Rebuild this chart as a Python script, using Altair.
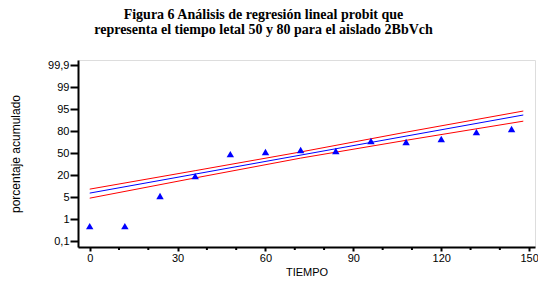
import json
import altair as alt
import pandas as pd

# ---- data ----
title_lines = ["Figura 6 Análisis de regresión lineal probit que",
               "representa el tiempo letal 50 y 80 para el aislado 2BbVch"]
y_tick_labels = ["0,1", "1", "5", "20", "50", "80", "95", "99", "99,9"]  # equally spaced probit ticks
x_ticks = [0, 30, 60, 90, 120, 150]
x_minor = [10, 20, 40, 50, 70, 80, 100, 110, 130, 140]

tiempo = [0, 12, 24, 36, 48, 60, 72, 84, 96, 108, 120, 132, 144]
probit_obs = [0.68, 0.68, 2.05, 2.95, 3.95, 4.05, 4.14, 4.09, 4.55, 4.50, 4.64, 4.95, 5.09]

fit_x = [0, 148]
fit_y = [2.18, 5.73]
ci_x = [0, 36, 72, 108, 148]
ci_upper = [2.36, 3.20, 4.05, 4.95, 5.91]
ci_lower = [1.95, 2.87, 3.77, 4.58, 5.45]

W, H = 457, 187

pts = pd.DataFrame({"x": tiempo, "y": probit_obs})
fit = pd.DataFrame({"x": fit_x, "y": fit_y})
up = pd.DataFrame({"x": ci_x, "y": ci_upper})
lo = pd.DataFrame({"x": ci_x, "y": ci_lower})
minor = pd.DataFrame({"x": x_minor})

xscale = alt.Scale(domain=[-4, 152], nice=False, zero=False)
yscale = alt.Scale(domain=[-0.27, 8.23], nice=False, zero=False)

label_expr = json.dumps(y_tick_labels) + "[datum.value]"

xaxis = alt.Axis(values=x_ticks, title="TIEMPO", grid=False, domainColor="black",
                 domainWidth=2, tickColor="black", tickWidth=2, tickSize=4,
                 labelFont="Liberation Sans", labelFontSize=11, labelColor="black",
                 labelPadding=1, titleFont="Liberation Sans", titleFontSize=11,
                 titleFontWeight="normal", titleColor="black", titlePadding=3)
yaxis = alt.Axis(values=list(range(len(y_tick_labels))), labelExpr=label_expr,
                 title="porcentaje acumulado", grid=False, domainColor="black",
                 domainWidth=2, tickColor="black", tickWidth=2, tickSize=8,
                 labelFont="Liberation Sans", labelFontSize=11, labelColor="black",
                 labelPadding=1, titleFont="Liberation Sans", titleFontSize=12,
                 titleFontWeight="normal", titleColor="black", titlePadding=25)

base_x = alt.X("x:Q", scale=xscale, axis=xaxis)
base_y = alt.Y("y:Q", scale=yscale, axis=yaxis)

lines_red_u = alt.Chart(up).mark_line(color="#FF0000", strokeWidth=1).encode(x=base_x, y=base_y)
lines_red_l = alt.Chart(lo).mark_line(color="#FF0000", strokeWidth=1).encode(x=base_x, y=base_y)
line_blue = alt.Chart(fit).mark_line(color="#0000FF", strokeWidth=1).encode(x=base_x, y=base_y)
points = alt.Chart(pts).mark_point(shape="triangle-up", filled=True, color="#0000FF",
                                   size=55, opacity=1).encode(x=base_x, y=base_y)
minor_ticks = alt.Chart(minor).mark_rule(color="black", strokeWidth=2).encode(
    x=alt.X("x:Q", scale=xscale), y=alt.value(H + 1), y2=alt.value(H + 3))

chart = alt.layer(lines_red_u, lines_red_l, line_blue, points, minor_ticks).properties(
    width=W, height=H,
    title=alt.TitleParams(text=title_lines, font="Liberation Serif", fontSize=14,
                          fontWeight="bold", color="black", anchor="middle",
                          dx=-43, offset=22, lineHeight=15),
    autosize=alt.AutoSizeParams(type="none"),
    padding={"left": 70, "top": 52, "right": 3, "bottom": 34},
).configure_view(stroke=None).configure(background="white")

chart.save("out.html", embed_options={"renderer": "svg", "actions": False})
